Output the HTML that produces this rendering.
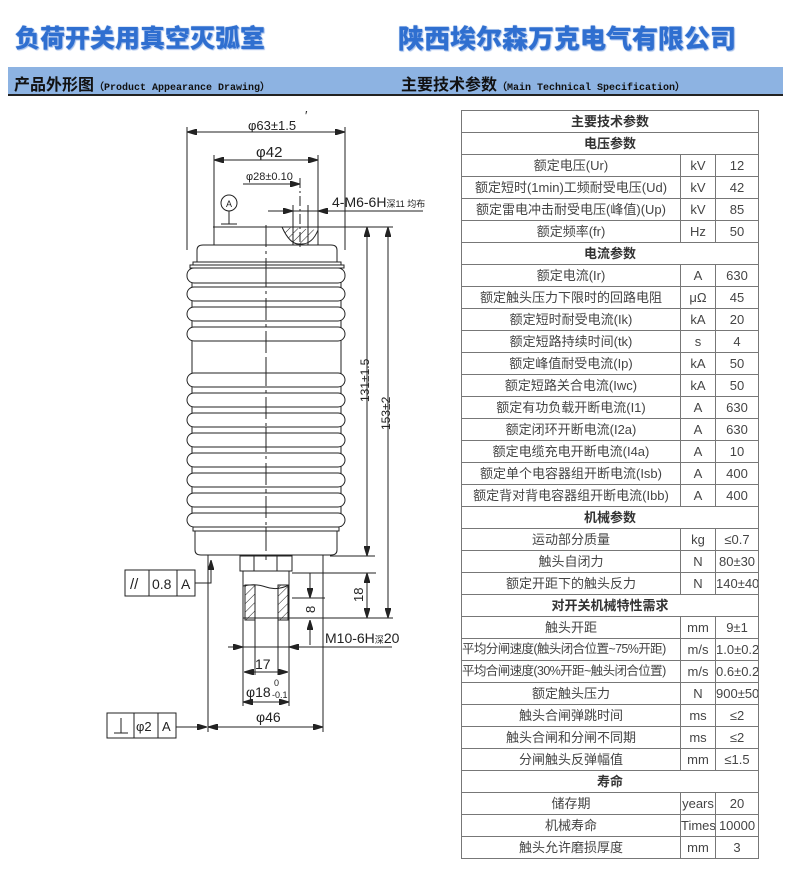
<!DOCTYPE html>
<html><head><meta charset="utf-8"><style>
body{margin:0;width:791px;height:870px;background:#fff;position:relative;overflow:hidden;font-family:"Liberation Sans","Noto Sans CJK SC",sans-serif}
.t{position:absolute;top:19px;font-size:25px;font-weight:900;color:#2f6fd0;text-shadow:1px 1px 1px #9bb8e8,0 0 1px #2f6fd0;letter-spacing:0px;font-family:"Liberation Sans","Noto Sans CJK SC",sans-serif}
.band{position:absolute;left:8px;top:67px;width:775px;height:27px;background:#8db3e2;border-bottom:2px solid #222}
.band span{position:absolute;top:4px;font-size:16px;font-weight:bold;color:#111}
.band small{font-family:"Liberation Mono",monospace;font-size:10px;font-weight:bold}
table{position:absolute;left:461px;top:110px;border-collapse:collapse;width:297px;table-layout:fixed}
td{border:1px solid #777;height:21px;padding:0;font-size:13px;color:#444;text-align:center;white-space:nowrap;overflow:hidden;line-height:21px}
td.h{font-weight:bold;color:#333}
td.l{text-align:left;font-size:12.5px;letter-spacing:-0.6px}
</style></head><body>
<div class="t" style="left:15px">负荷开关用真空灭弧室</div>
<div class="t" style="left:398px;font-size:26px">陕西埃尔森万克电气有限公司</div>
<div class="band"><span style="left:6px">产品外形图<small>（Product Appearance Drawing）</small></span><span style="left:393px">主要技术参数<small>（Main Technical Specification）</small></span></div>

<svg style="position:absolute;left:0;top:0" width="460" height="870" font-family="Liberation Sans Narrow, Liberation Sans, sans-serif" fill="none" stroke="#222" stroke-width="1">
<defs><marker id="a" markerWidth="10" markerHeight="6" refX="10" refY="3" orient="auto-start-reverse" markerUnits="userSpaceOnUse"><path d="M0,0 L10,3 L0,6z" fill="#222"/></marker>
<pattern id="hh" width="6" height="6" patternUnits="userSpaceOnUse" patternTransform="rotate(45)"><line x1="0" y1="0" x2="0" y2="6" stroke="#222"/></pattern></defs>
<line x1="187" y1="127" x2="187" y2="250"/><line x1="345" y1="127" x2="345" y2="250"/>
<line x1="187" y1="132" x2="345" y2="132" marker-start="url(#a)" marker-end="url(#a)"/>
<line x1="214" y1="155" x2="214" y2="245"/><line x1="318" y1="155" x2="318" y2="245"/>
<line x1="214" y1="160" x2="318" y2="160" marker-start="url(#a)" marker-end="url(#a)"/>
<line x1="243" y1="184" x2="300" y2="184" marker-end="url(#a)"/>
<line x1="300" y1="178" x2="300" y2="250" stroke-dasharray="10,3,2,3"/>
<line x1="266" y1="225" x2="266" y2="560" stroke-dasharray="22,4,3,4"/>
<circle cx="229" cy="203" r="8"/><line x1="229" y1="211" x2="229" y2="224"/><line x1="221" y1="224" x2="237" y2="224"/>
<line x1="268" y1="211" x2="423" y2="211"/><line x1="268" y1="211" x2="293" y2="211" marker-end="url(#a)"/><line x1="330" y1="211" x2="318" y2="211" marker-end="url(#a)"/>
<line x1="293" y1="205" x2="293" y2="245"/><line x1="308" y1="205" x2="308" y2="245"/>
<line x1="213" y1="227" x2="393" y2="227"/>
<path d="M282,227 Q290,245 300,244 Q312,245 318,230" fill="url(#hh)"/>
<path d="M197,262 L197,250 Q197,245 203,245 L331,245 Q337,245 337,250 L337,262"/>
<rect x="193" y="262" width="148" height="3"/><rect x="190" y="265" width="154" height="3"/>
<line x1="192" y1="268" x2="192" y2="527"/><line x1="341" y1="268" x2="341" y2="527"/>
<g fill="#fff">
<rect x="187" y="268" width="158" height="15" rx="7"/><rect x="187" y="287" width="158" height="14" rx="7"/>
<rect x="187" y="307" width="158" height="14" rx="7"/><rect x="187" y="327" width="158" height="14" rx="7"/>
<rect x="187" y="373" width="158" height="14" rx="7"/><rect x="187" y="393" width="158" height="14" rx="7"/>
<rect x="187" y="413" width="158" height="14" rx="7"/><rect x="187" y="433" width="158" height="14" rx="7"/>
<rect x="187" y="453" width="158" height="14" rx="7"/><rect x="187" y="473" width="158" height="14" rx="7"/>
<rect x="187" y="493" width="158" height="14" rx="7"/><rect x="187" y="513" width="158" height="14" rx="7"/>
</g>
<line x1="266" y1="265" x2="266" y2="555" stroke-dasharray="22,4,3,4"/>
<rect x="193" y="527" width="146" height="4"/>
<path d="M195,531 L195,550 Q195,555 201,555 L331,555 Q337,555 337,550 L337,531"/>
<line x1="367" y1="227" x2="367" y2="556" marker-start="url(#a)" marker-end="url(#a)"/>
<line x1="388" y1="227" x2="388" y2="618" marker-start="url(#a)" marker-end="url(#a)"/>
<line x1="330" y1="556" x2="375" y2="556"/>
<text x="0" y="0" transform="translate(369,402) rotate(-90)" font-size="12" fill="#222" stroke="none">131±1.5</text>
<text x="0" y="0" transform="translate(390,430) rotate(-90)" font-size="12" fill="#222" stroke="none">153±2</text>
<line x1="208" y1="555" x2="208" y2="732"/><line x1="323" y1="555" x2="323" y2="732"/>
<line x1="208" y1="727" x2="323" y2="727" marker-start="url(#a)" marker-end="url(#a)"/>
<rect x="240" y="556" width="52" height="15"/><line x1="254" y1="556" x2="254" y2="571"/><line x1="277" y1="556" x2="277" y2="571"/>
<line x1="243" y1="571" x2="243" y2="706"/><line x1="289" y1="571" x2="289" y2="706"/>
<rect x="245" y="585" width="10" height="35" fill="url(#hh)"/><rect x="278" y="585" width="10" height="35" fill="url(#hh)"/>
<path d="M243,586 Q255,583 266,587 T289,585"/>
<line x1="255" y1="585" x2="255" y2="650"/><line x1="278" y1="585" x2="278" y2="650"/>
<line x1="243" y1="618" x2="393" y2="618"/><line x1="292" y1="573" x2="376" y2="573"/>
<line x1="310" y1="573" x2="310" y2="598" marker-end="url(#a)"/><line x1="310" y1="645" x2="310" y2="620" marker-end="url(#a)"/>
<line x1="367" y1="573" x2="367" y2="618" marker-start="url(#a)" marker-end="url(#a)"/>
<line x1="292" y1="598" x2="325" y2="598"/>
<text x="0" y="0" transform="translate(315,613) rotate(-90)" font-size="13" fill="#222" stroke="none">8</text>
<text x="0" y="0" transform="translate(363,602) rotate(-90)" font-size="13" fill="#222" stroke="none">18</text>
<line x1="228" y1="647" x2="392" y2="647"/>
<line x1="230" y1="647" x2="243" y2="647" marker-end="url(#a)"/><line x1="302" y1="647" x2="289" y2="647" marker-end="url(#a)"/>
<text x="325" y="643" font-size="14" fill="#222" stroke="none">M10-6H<tspan font-size="9">深</tspan>20</text>
<line x1="255" y1="650" x2="255" y2="675"/><line x1="278" y1="650" x2="278" y2="675"/>
<line x1="244" y1="672" x2="288" y2="672" marker-start="url(#a)" marker-end="url(#a)"/>
<text x="255" y="669" font-size="14" fill="#222" stroke="none">17</text>
<line x1="243" y1="702" x2="289" y2="702" marker-start="url(#a)" marker-end="url(#a)"/>
<text x="246" y="697" font-size="14" fill="#222" stroke="none">φ18</text><text x="274" y="686" font-size="9" fill="#222" stroke="none">0</text><text x="272" y="698" font-size="9" fill="#222" stroke="none">-0.1</text>
<text x="256" y="722" font-size="14" fill="#222" stroke="none">φ46</text>
<rect x="125" y="570" width="70" height="26"/><line x1="149" y1="570" x2="149" y2="596"/><line x1="177" y1="570" x2="177" y2="596"/>
<text x="130" y="589" font-size="15" fill="#222" stroke="none">//</text><text x="152" y="589" font-size="14" fill="#222" stroke="none">0.8</text><text x="181" y="589" font-size="14" fill="#222" stroke="none">A</text>
<path d="M195,583 L211,583 L211,560" marker-end="url(#a)"/>
<rect x="107" y="713" width="69" height="25"/><line x1="134" y1="713" x2="134" y2="738"/><line x1="158" y1="713" x2="158" y2="738"/>
<path d="M114,733 L128,733 M121,733 L121,718"/><text x="136" y="731" font-size="13" fill="#222" stroke="none">φ2</text><text x="162" y="731" font-size="13" fill="#222" stroke="none">A</text>
<line x1="176" y1="727" x2="207" y2="727" marker-end="url(#a)"/>
<g fill="#222" stroke="none" font-size="13">
<text x="248" y="130">φ63±1.5</text><text x="305" y="120">′</text>
<text x="256" y="157" font-size="15">φ42</text>
<text x="246" y="180" font-size="11">φ28±0.10</text>
<text x="226" y="207" font-size="9">A</text>
<text x="332" y="207" font-size="14">4-M6-6H<tspan font-size="9">深11 均布</tspan></text>
</g>
</svg>

<table>
<col style="width:219px"><col style="width:35px"><col style="width:43px">
<tr><td colspan="3" class="h">主要技术参数</td></tr>
<tr><td colspan="3" class="h">电压参数</td></tr>
<tr><td>额定电压(Ur)</td><td>kV</td><td>12</td></tr>
<tr><td>额定短时(1min)工频耐受电压(Ud)</td><td>kV</td><td>42</td></tr>
<tr><td>额定雷电冲击耐受电压(峰值)(Up)</td><td>kV</td><td>85</td></tr>
<tr><td>额定频率(fr)</td><td>Hz</td><td>50</td></tr>
<tr><td colspan="3" class="h">电流参数</td></tr>
<tr><td>额定电流(Ir)</td><td>A</td><td>630</td></tr>
<tr><td>额定触头压力下限时的回路电阻</td><td>μΩ</td><td>45</td></tr>
<tr><td>额定短时耐受电流(Ik)</td><td>kA</td><td>20</td></tr>
<tr><td>额定短路持续时间(tk)</td><td>s</td><td>4</td></tr>
<tr><td>额定峰值耐受电流(Ip)</td><td>kA</td><td>50</td></tr>
<tr><td>额定短路关合电流(Iwc)</td><td>kA</td><td>50</td></tr>
<tr><td>额定有功负载开断电流(I1)</td><td>A</td><td>630</td></tr>
<tr><td>额定闭环开断电流(I2a)</td><td>A</td><td>630</td></tr>
<tr><td>额定电缆充电开断电流(I4a)</td><td>A</td><td>10</td></tr>
<tr><td>额定单个电容器组开断电流(Isb)</td><td>A</td><td>400</td></tr>
<tr><td>额定背对背电容器组开断电流(Ibb)</td><td>A</td><td>400</td></tr>
<tr><td colspan="3" class="h">机械参数</td></tr>
<tr><td>运动部分质量</td><td>kg</td><td>≤0.7</td></tr>
<tr><td>触头自闭力</td><td>N</td><td>80±30</td></tr>
<tr><td>额定开距下的触头反力</td><td>N</td><td>140±40</td></tr>
<tr><td colspan="3" class="h">对开关机械特性需求</td></tr>
<tr><td>触头开距</td><td>mm</td><td>9±1</td></tr>
<tr><td class="l">平均分闸速度(触头闭合位置~75%开距)</td><td>m/s</td><td>1.0±0.2</td></tr>
<tr><td class="l">平均合闸速度(30%开距~触头闭合位置)</td><td>m/s</td><td>0.6±0.2</td></tr>
<tr><td>额定触头压力</td><td>N</td><td>900±50</td></tr>
<tr><td>触头合闸弹跳时间</td><td>ms</td><td>≤2</td></tr>
<tr><td>触头合闸和分闸不同期</td><td>ms</td><td>≤2</td></tr>
<tr><td>分闸触头反弹幅值</td><td>mm</td><td>≤1.5</td></tr>
<tr><td colspan="3" class="h">寿命</td></tr>
<tr><td>储存期</td><td>years</td><td>20</td></tr>
<tr><td>机械寿命</td><td>Times</td><td>10000</td></tr>
<tr><td>触头允许磨损厚度</td><td>mm</td><td>3</td></tr>
</table>
</body></html>
